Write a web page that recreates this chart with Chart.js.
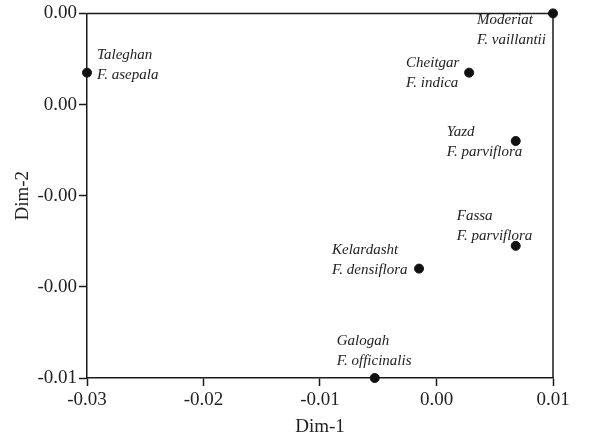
<!DOCTYPE html>
<html>
<head>
<meta charset="utf-8">
<script src="https://cdn.jsdelivr.net/npm/chart.js@4"></script>
<style>
html,body{margin:0;padding:0;background:#fff;}
#wrap{width:589px;height:438px;}
</style>
</head>
<body>
<div id="wrap"><canvas id="c" width="589" height="438"></canvas></div>
<script>
const sites = ['Taleghan','Moderiat','Cheitgar','Yazd','Fassa','Kelardasht','Galogah'];
const species = ['F. asepala','F. vaillantii','F. indica','F. parviflora','F. parviflora','F. densiflora','F. officinalis'];
const dim1 = [-0.030, 0.010, 0.0028, 0.0068, 0.0068, -0.0015, -0.0053];
const dim2 = [0.0017, 0.0030, 0.0017, 0.0002, -0.0021, -0.0026, -0.0050];
const xTickValues = [-0.03, -0.02, -0.01, 0.00, 0.01];
const xTickLabels = ['-0.03', '-0.02', '-0.01', '0.00', '0.01'];
const yTickValues = [0.003, 0.001, -0.001, -0.003, -0.005];
const yTickLabels = ['0.00', '0.00', '-0.00', '-0.00', '-0.01'];

// label placement relative to each point (dx of left edge, dy of first line centre)
const labelPlacement = [[10,-18],[-76,7],[-63,-10],[-69,-9],[-59,-30],[-87,-19],[-38,-37]];

const INK = '#1a1a1a';
const SERIF = '"Liberation Serif", "Times New Roman", serif';

const frame = {
  id: 'frame',
  beforeDatasetsDraw(chart) {
    const {ctx, chartArea: a} = chart;
    ctx.save();
    ctx.strokeStyle = INK;
    ctx.lineWidth = 1.5;
    ctx.beginPath();
    ctx.moveTo(a.left, a.top);
    ctx.lineTo(a.right, a.top);
    ctx.lineTo(a.right, a.bottom);
    ctx.stroke();
    ctx.restore();
  }
};

const pointLabels = {
  id: 'pointLabels',
  afterDatasetsDraw(chart) {
    const {ctx} = chart;
    const meta = chart.getDatasetMeta(0);
    ctx.save();
    ctx.fillStyle = '#222';
    ctx.font = 'italic 15px ' + SERIF;
    ctx.textAlign = 'left';
    ctx.textBaseline = 'middle';
    meta.data.forEach((pt, i) => {
      const [dx, dy] = labelPlacement[i];
      ctx.fillText(sites[i], pt.x + dx, pt.y + dy);
      ctx.fillText(species[i], pt.x + dx, pt.y + dy + 20);
    });
    ctx.restore();
  }
};

new Chart(document.getElementById('c'), {
  type: 'scatter',
  data: {
    datasets: [{
      data: dim1.map((x, i) => ({x, y: dim2[i]})),
      backgroundColor: '#111',
      borderColor: '#111',
      pointRadius: 4.5,
      pointHoverRadius: 4.5,
      clip: false
    }]
  },
  options: {
    responsive: false,
    animation: false,
    devicePixelRatio: 1,
    layout: {padding: {left: 0, top: 13, right: 36, bottom: 0}},
    plugins: {legend: {display: false}, tooltip: {enabled: false}},
    scales: {
      x: {
        type: 'linear',
        min: -0.03, max: 0.01,
        afterFit(s) { s.height = 60; },
        afterBuildTicks(s) { s.ticks = xTickValues.map(v => ({value: v})); },
        ticks: {
          color: '#222',
          font: {family: SERIF, size: 19},
          padding: 3,
          maxRotation: 0,
          callback: (v, i) => xTickLabels[i]
        },
        grid: {drawOnChartArea: false, drawTicks: true, tickLength: 8, tickColor: INK, tickWidth: 1.5},
        border: {display: true, color: INK, width: 1.5},
        title: {display: true, text: 'Dim-1', color: '#222', font: {family: SERIF, size: 19}, padding: {top: 0, bottom: 0}}
      },
      y: {
        type: 'linear',
        min: -0.005, max: 0.003,
        afterFit(s) { s.width = 87; },
        afterBuildTicks(s) { s.ticks = yTickValues.map(v => ({value: v})); },
        ticks: {
          color: '#222',
          font: {family: SERIF, size: 19},
          padding: 2,
          callback: (v, i) => yTickLabels[i]
        },
        grid: {drawOnChartArea: false, drawTicks: true, tickLength: 8, tickColor: INK, tickWidth: 1.5},
        border: {display: true, color: INK, width: 1.5},
        title: {display: true, text: 'Dim-2', color: '#222', font: {family: SERIF, size: 19}, padding: {top: 12, bottom: 0}}
      }
    }
  },
  plugins: [frame, pointLabels]
});
</script>
</body>
</html>
